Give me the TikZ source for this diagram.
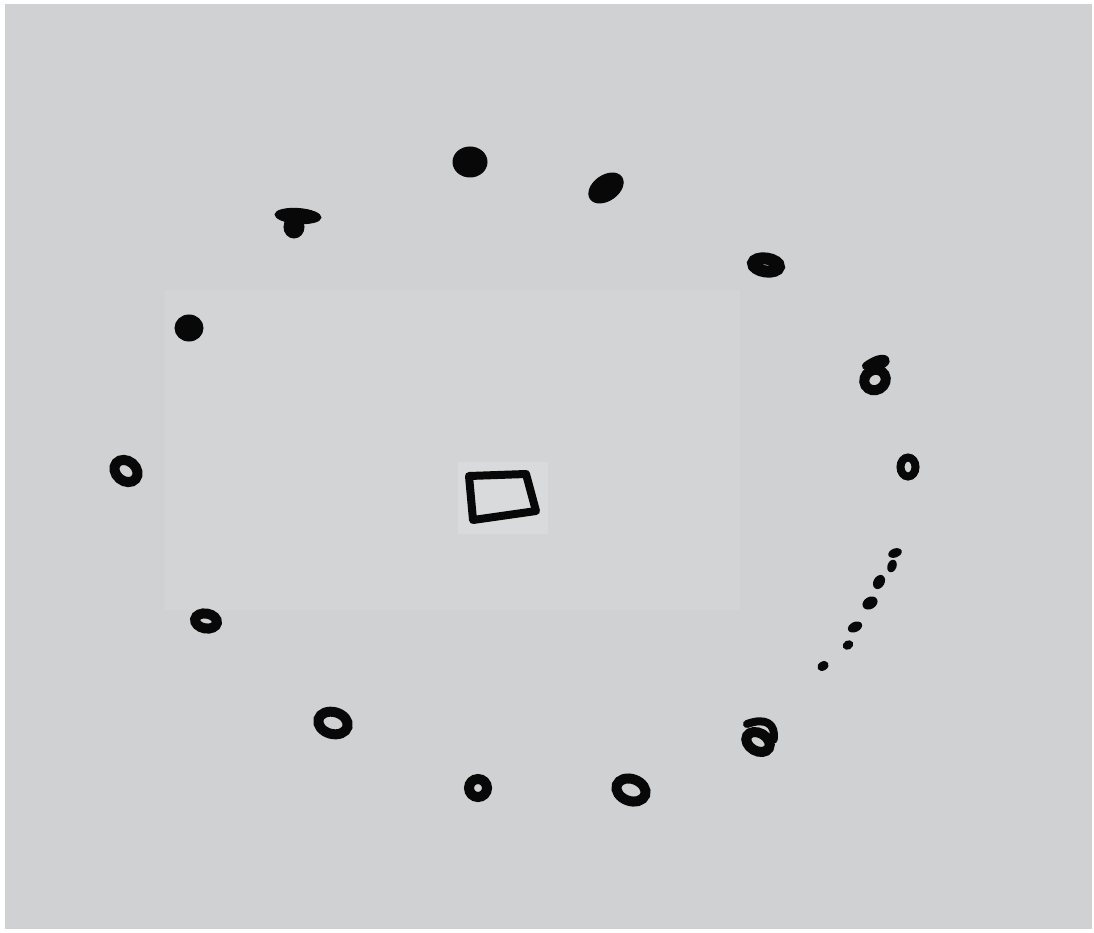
\documentclass[tikz,border=0pt]{standalone}
\usetikzlibrary{shapes.geometric}
\newdimen\pxu \pxu=0.02cm
\definecolor{paper}{RGB}{208,209,211}
\definecolor{paperlight}{RGB}{211,212,214}
\definecolor{patch}{RGB}{217,218,219}
\definecolor{ink}{RGB}{8,8,8}
\tikzset{
  ring/.style={ellipse, draw=ink, line width=10\pxu, inner sep=0pt},
  blob/.style={ellipse, fill=ink, draw=ink, line width=1\pxu, inner sep=0pt},
  dotmark/.style={ellipse, fill=ink, inner sep=0pt, minimum width=11\pxu, minimum height=9\pxu},
  pen/.style={draw=ink, line width=8\pxu, line cap=round, line join=round}
}
\begin{document}
\begin{tikzpicture}[x=0.02cm, y=-0.02cm]
\useasboundingbox (0,0) rectangle (1094,932);
\fill[white] (0,0) rectangle (1094,932);
\fill[paper] (5,4) rectangle (1092,929);
\fill[paperlight] (165,290) rectangle (740,610);
\fill[patch] (458,462) rectangle (548,534);
% central square
\coordinate (sq1) at (469,476);
\coordinate (sq2) at (526,474);
\coordinate (sq3) at (536,511);
\coordinate (sq4) at (473,520);
\draw[pen] (sq1) -- (sq2) -- (sq3) -- (sq4) -- cycle;
% ring of marks
\node[blob, minimum width=34\pxu, minimum height=30\pxu] (c1) at (470,162) {};
\node[blob, minimum width=38\pxu, minimum height=25\pxu, rotate=35] (c2) at (606,188) {};
\node[ring, line width=12\pxu, minimum width=26\pxu, minimum height=13\pxu, rotate=-8] (c3) at (766,265) {};
\node[ring, minimum width=22\pxu, minimum height=20\pxu, rotate=30] (c4) at (875,380) {};
\draw[pen] (c4.north east) .. controls (892,362) and (885,352) .. (866,366);
\node[ring, line width=8\pxu, minimum width=15\pxu, minimum height=19\pxu] (c5) at (908,467) {};
\node[ring, minimum width=25\pxu, minimum height=18\pxu, rotate=-30] (c7) at (758,742) {};
\draw[pen] (c7.north east) .. controls (776,724) and (766,717) .. (747,724);
\node[ring, minimum width=30\pxu, minimum height=22\pxu, rotate=-20] (c8) at (631,790) {};
\node[ring, minimum width=18\pxu, minimum height=18\pxu] (c9) at (478,788) {};
\node[ring, minimum width=30\pxu, minimum height=22\pxu, rotate=-15] (c10) at (333,723) {};
\node[ring, minimum width=22\pxu, minimum height=15\pxu, rotate=-10] (c11) at (206,621) {};
\node[ring, minimum width=25\pxu, minimum height=20\pxu, rotate=-40] (c12) at (126,471) {};
\node[blob, minimum width=28\pxu, minimum height=26\pxu] (c13) at (189,328) {};
\node[blob, minimum width=46\pxu, minimum height=15\pxu, rotate=-4] (c14) at (298,216) {};
\node[blob, minimum width=20\pxu, minimum height=22\pxu] (c14b) at (294,227) {};
% dotted arc
\node[dotmark, minimum width=14\pxu, rotate=20] (d1) at (895,553) {};
\node[dotmark, minimum width=13\pxu, rotate=70] (d2) at (892,566) {};
\node[dotmark, minimum width=15\pxu, minimum height=11\pxu, rotate=60] (d3) at (879,582) {};
\node[dotmark, minimum width=16\pxu, minimum height=12\pxu, rotate=30] (d4) at (870,603) {};
\node[dotmark, minimum width=15\pxu, minimum height=10\pxu, rotate=25] (d5) at (855,627) {};
\node[dotmark, minimum width=11\pxu, rotate=30] (d6) at (848,645) {};
\node[dotmark, minimum width=12\pxu, rotate=30] (d7) at (823,666) {};
\end{tikzpicture}
\end{document}
